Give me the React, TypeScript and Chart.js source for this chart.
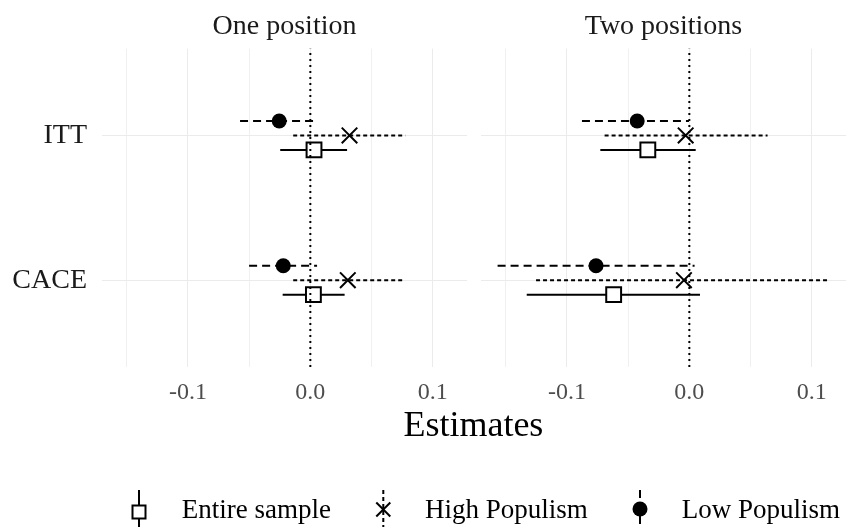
import React, { useEffect, useRef } from 'react';
import { Chart, registerables } from 'chart.js';

Chart.register(...registerables);

const FONT = '"Liberation Serif", "Times New Roman", serif';

// ---- categories / labels ----
const panelTitles = ['One position', 'Two positions'];
const rowLabels = ['ITT', 'CACE'];
const seriesNames = ['Entire sample', 'High Populism', 'Low Populism'];
const xTickValues = [-0.15, -0.1, -0.05, 0, 0.05, 0.1];
const xMajorTicks = [-0.1, 0, 0.1];
const zeroLine = 0;

// ---- One position (values per row: [ITT, CACE]) ----
const oneEntireEst = [0.003, 0.0025];
const oneEntireLo = [-0.0246, -0.0226];
const oneEntireHi = [0.030, 0.028];
const oneHighEst = [0.032, 0.0306];
const oneHighLo = [-0.014, -0.014];
const oneHighHi = [0.0776, 0.075];
const oneLowEst = [-0.0254, -0.0221];
const oneLowLo = [-0.0574, -0.050];
const oneLowHi = [0.0033, 0.0055];

// ---- Two positions ----
const twoEntireEst = [-0.0339, -0.0618];
const twoEntireLo = [-0.0727, -0.1328];
const twoEntireHi = [0.0052, 0.0087];
const twoHighEst = [-0.003, -0.0044];
const twoHighLo = [-0.0692, -0.1252];
const twoHighHi = [0.0639, 0.1144];
const twoLowEst = [-0.0426, -0.0762];
const twoLowLo = [-0.0877, -0.1566];
const twoLowHi = [-0.0003, 0.0043];

// shared x range (ggplot-like 5% expansion of the data range)
const allLo = [...oneEntireLo, ...oneHighLo, ...oneLowLo, ...twoEntireLo, ...twoHighLo, ...twoLowLo];
const allHi = [...oneEntireHi, ...oneHighHi, ...oneLowHi, ...twoEntireHi, ...twoHighHi, ...twoLowHi];
const dataMin = Math.min(...allLo);
const dataMax = Math.max(...allHi);
const xMin = dataMin - 0.05 * (dataMax - dataMin);
const xMax = dataMax + 0.05 * (dataMax - dataMin);

// discrete y: ITT on top
const yMin = 0.4;
const yMax = rowLabels.length + 0.6;
const rowY = (r: number) => rowLabels.length - r;
const dodge = [-0.1, 0, 0.1];

const seriesStyle = [
  { pointStyle: 'rect', radius: 10.5, bg: '#ffffff', bw: 2, dash: [] as number[] },
  { pointStyle: 'crossRot', radius: 11, bg: '#000000', bw: 2, dash: [4, 3] },
  { pointStyle: 'circle', radius: 7.5, bg: '#000000', bw: 0, dash: [8, 5] },
];

type PanelProps = {
  title: string;
  est: number[][];
  lo: number[][];
  hi: number[][];
  showY: boolean;
  left: number;
  width: number;
  height: number;
};

function Panel({ title, est, lo, hi, showY, left, width, height }: PanelProps) {
  const ref = useRef<HTMLCanvasElement>(null);
  useEffect(() => {
    if (!ref.current) return;
    const datasets: any[] = [];
    datasets.push({
      label: 'zero',
      data: [{ x: zeroLine, y: yMin }, { x: zeroLine, y: yMax }],
      showLine: true,
      borderColor: '#000',
      borderWidth: 2,
      borderDash: [2, 4],
      pointRadius: 0,
      order: 0,
    });
    seriesNames.forEach((name, s) => {
      const st = seriesStyle[s];
      datasets.push({
        label: name,
        data: rowLabels.map((_, r) => ({ x: est[s][r], y: rowY(r) + dodge[s] })),
        pointStyle: st.pointStyle,
        pointRadius: st.radius,
        pointHoverRadius: st.radius,
        pointBackgroundColor: st.bg,
        pointBorderColor: '#000',
        pointBorderWidth: st.bw,
        showLine: false,
        order: 1,
      });
      rowLabels.forEach((_, r) => {
        const y = rowY(r) + dodge[s];
        datasets.push({
          label: name + ' interval',
          data: [{ x: lo[s][r], y }, { x: hi[s][r], y }],
          showLine: true,
          borderColor: '#000',
          borderWidth: 2,
          borderDash: st.dash,
          pointRadius: 0,
          order: 2,
        });
      });
    });

    const chart = new Chart(ref.current, {
      type: 'scatter',
      data: { datasets },
      options: {
        animation: false,
        responsive: false,
        devicePixelRatio: 1,
        events: [],
        layout: { padding: 0, autoPadding: false },
        plugins: {
          legend: { display: false },
          tooltip: { enabled: false },
          title: {
            display: true,
            text: title,
            fullSize: false,
            color: '#1a1a1a',
            font: { family: FONT, size: 28, weight: 'normal' },
            padding: { top: 10, bottom: 5 },
          },
        },
        scales: {
          x: {
            type: 'linear',
            min: xMin,
            max: xMax,
            afterBuildTicks: (scale: any) => {
              scale.ticks = xTickValues.map((v) => ({ value: v }));
            },
            afterFit: (scale: any) => {
              scale.height = 43;
              scale.paddingLeft = 0;
              scale.paddingRight = 0;
            },
            ticks: {
              autoSkip: false,
              maxRotation: 0,
              padding: 11,
              color: '#4d4d4d',
              font: { family: FONT, size: 24 },
              callback: (v: any) => (xMajorTicks.some((m) => Math.abs(m - v) < 1e-9) ? Number(v).toFixed(1) : ''),
            },
            grid: {
              drawTicks: false,
              color: (ctx: any) => (xMajorTicks.some((m) => Math.abs(m - ctx.tick?.value) < 1e-9) ? '#ebebeb' : '#f0f0f0'),
              lineWidth: 1,
            },
            border: { display: false },
          },
          y: {
            type: 'linear',
            min: yMin,
            max: yMax,
            afterBuildTicks: (scale: any) => {
              scale.ticks = rowLabels.map((_, r) => ({ value: rowY(r) }));
            },
            afterFit: (scale: any) => {
              scale.width = showY ? 102 : 0;
              scale.paddingTop = 0;
              scale.paddingBottom = 0;
            },
            ticks: {
              display: showY,
              padding: 15,
              color: '#1a1a1a',
              font: { family: FONT, size: 28 },
              callback: (v: any) => rowLabels[rowLabels.length - Math.round(v)] ?? '',
            },
            grid: { drawTicks: false, color: '#ebebeb', lineWidth: 1 },
            border: { display: false },
          },
        },
      } as any,
    });
    return () => chart.destroy();
  }, []);
  return (
    <canvas
      ref={ref}
      width={width}
      height={height}
      style={{ position: 'absolute', left, top: 0, width, height }}
    />
  );
}

function LegendKeys() {
  return (
    <svg width={851} height={530} style={{ position: 'absolute', left: 0, top: 0, pointerEvents: 'none' }}>
      <line x1={139} y1={490} x2={139} y2={527} stroke="#000" strokeWidth={2} />
      <rect x={132.5} y={505.5} width={13} height={13} fill="#fff" stroke="#000" strokeWidth={2} />
      <line x1={383.3} y1={490} x2={383.3} y2={527} stroke="#000" strokeWidth={2} strokeDasharray="4 3" />
      <line x1={376.3} y1={502.5} x2={390.3} y2={516.5} stroke="#000" strokeWidth={2} />
      <line x1={376.3} y1={516.5} x2={390.3} y2={502.5} stroke="#000" strokeWidth={2} />
      <line x1={640} y1={490} x2={640} y2={527} stroke="#000" strokeWidth={2} strokeDasharray="8 5" />
      <circle cx={640} cy={509} r={7.5} fill="#000" />
    </svg>
  );
}

export default function App() {
  const textBase: React.CSSProperties = { position: 'absolute', fontFamily: FONT, whiteSpace: 'nowrap', color: '#000' };
  return (
    <div style={{ position: 'absolute', left: 0, top: 0, width: 851, height: 530, background: '#fff', overflow: 'hidden' }}>
      <Panel
        title={panelTitles[0]}
        est={[oneEntireEst, oneHighEst, oneLowEst]}
        lo={[oneEntireLo, oneHighLo, oneLowLo]}
        hi={[oneEntireHi, oneHighHi, oneLowHi]}
        showY={true}
        left={0}
        width={467}
        height={410}
      />
      <Panel
        title={panelTitles[1]}
        est={[twoEntireEst, twoHighEst, twoLowEst]}
        lo={[twoEntireLo, twoHighLo, twoLowLo]}
        hi={[twoEntireHi, twoHighHi, twoLowHi]}
        showY={false}
        left={481}
        width={365}
        height={410}
      />
      <div style={{ ...textBase, left: 473.4, top: 406, fontSize: 36, lineHeight: '36px', transform: 'translateX(-50%)' }}>
        Estimates
      </div>
      <LegendKeys />
      <div style={{ ...textBase, left: 181.7, top: 496, fontSize: 27, lineHeight: '27px' }}>{seriesNames[0]}</div>
      <div style={{ ...textBase, left: 425, top: 496, fontSize: 27, lineHeight: '27px' }}>{seriesNames[1]}</div>
      <div style={{ ...textBase, left: 681.7, top: 496, fontSize: 27, lineHeight: '27px' }}>{seriesNames[2]}</div>
    </div>
  );
}
